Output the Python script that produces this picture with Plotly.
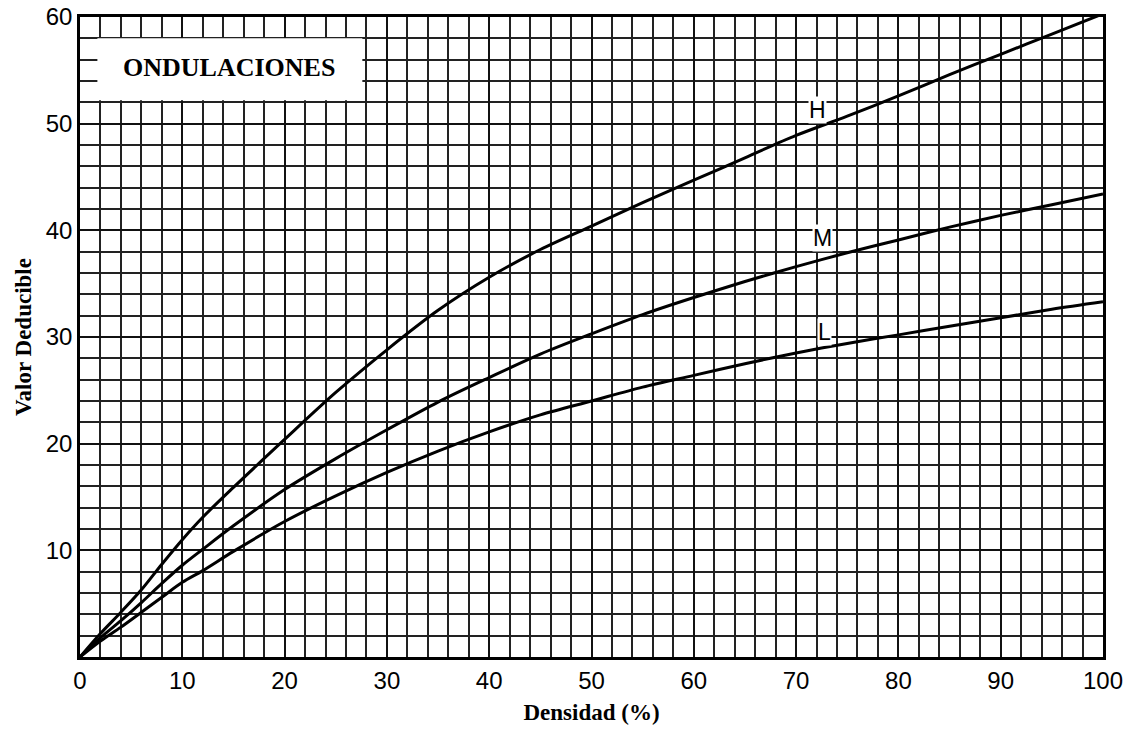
import plotly.graph_objects as go

densidad = [0, 2, 4, 6, 8, 10, 12, 15, 20, 25, 30, 35, 40, 45, 50, 55, 60, 65, 70, 75, 80, 85, 90, 95, 100]
curva_h = [0, 2.2, 4.2, 6.3, 8.7, 11.0, 13.1, 15.9, 20.4, 24.8, 28.8, 32.5, 35.6, 38.2, 40.4, 42.6, 44.7, 46.8, 48.9, 50.7, 52.6, 54.6, 56.5, 58.4, 60.3]
curva_m = [0, 1.8, 3.4, 5.1, 6.9, 8.6, 10.1, 12.3, 15.7, 18.6, 21.3, 23.9, 26.2, 28.4, 30.3, 32.1, 33.7, 35.2, 36.6, 37.9, 39.1, 40.3, 41.4, 42.4, 43.4]
curva_l = [0, 1.5, 2.8, 4.2, 5.6, 7.0, 8.1, 9.9, 12.7, 15.1, 17.3, 19.3, 21.1, 22.7, 24.0, 25.3, 26.4, 27.5, 28.5, 29.4, 30.2, 31.0, 31.8, 32.6, 33.3]

series = [("H", curva_h), ("M", curva_m), ("L", curva_l)]
etiquetas = {"H": (72.1, 51.3), "M": (72.6, 39.3), "L": (72.8, 30.5)}

x_ticks = [0, 10, 20, 30, 40, 50, 60, 70, 80, 90, 100]
y_ticks = [10, 20, 30, 40, 50, 60]

fig = go.Figure()
for name, vals in series:
    fig.add_trace(go.Scatter(x=densidad, y=vals, mode="lines", name=name,
                             line=dict(color="black", width=3, shape="spline", smoothing=0.9),
                             showlegend=False, hoverinfo="x+y"))

for name, (lx, ly) in etiquetas.items():
    fig.add_annotation(x=lx, y=ly, text=name, showarrow=False,
                       font=dict(family="Liberation Sans, Arial", size=23, color="black"),
                       bgcolor="white", borderpad=0)

fig.add_shape(type="rect", x0=1.7, x1=27.6, y0=52.2, y1=58.0, xref="x", yref="y",
              fillcolor="white", line=dict(width=0), layer="above")
fig.add_annotation(x=14.6, y=55.3, text="<b>ONDULACIONES</b>", showarrow=False,
                   font=dict(family="Liberation Serif, Times New Roman", size=26, color="black"))

axis_common = dict(showline=True, linecolor="black", linewidth=2.5, mirror=True,
                   showgrid=True, gridcolor="#111", gridwidth=2.4, zeroline=False,
                   automargin=False,
                   ticks="", tickfont=dict(family="Liberation Sans, Arial", size=24, color="black"))

fig.update_xaxes(range=[0, 100], tickvals=x_ticks, ticktext=[str(v) for v in x_ticks],
                 minor=dict(dtick=2, showgrid=True, gridcolor="#222", gridwidth=1.6),
                 title=dict(text="<b>Densidad (%)</b>", standoff=12,
                            font=dict(family="Liberation Serif, Times New Roman", size=23, color="black")),
                 **axis_common)
fig.update_yaxes(range=[0, 60], tickvals=y_ticks, ticktext=[str(v) for v in y_ticks],
                 minor=dict(dtick=2, showgrid=True, gridcolor="#222", gridwidth=1.6),
                 title=dict(text="<b>Valor Deducible</b>", standoff=8,
                            font=dict(family="Liberation Serif, Times New Roman", size=23, color="black")),
                 **axis_common)

fig.update_layout(width=1136, height=733, margin=dict(l=80, r=33, t=17, b=76),
                  plot_bgcolor="white", paper_bgcolor="white")

fig.write_html("out.html", config={"displayModeBar": False},
               post_script="document.body.style.margin='0';document.body.style.overflow='hidden';")
